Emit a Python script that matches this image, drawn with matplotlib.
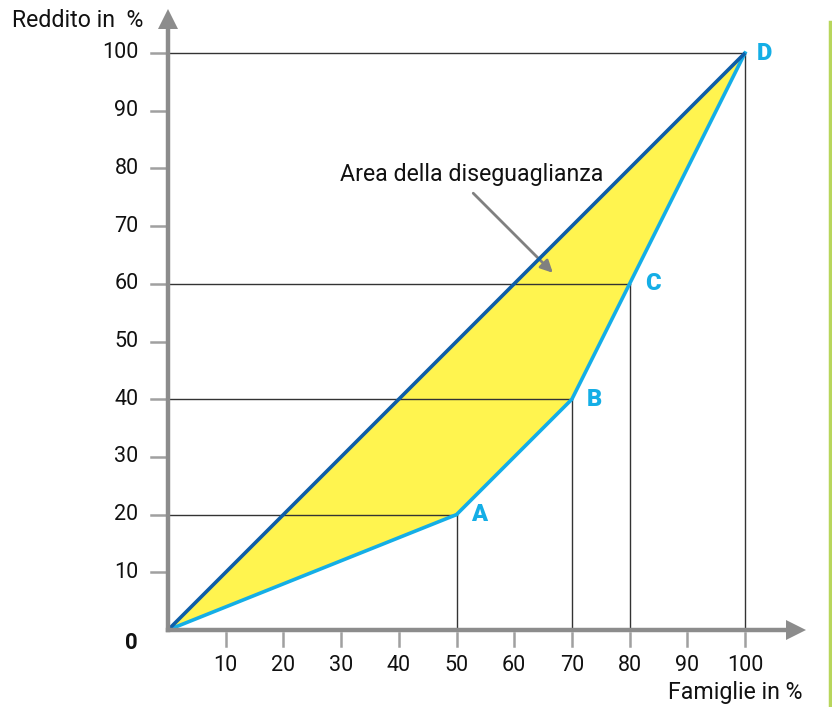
import numpy as np
import matplotlib
matplotlib.use("Agg")
import matplotlib.pyplot as plt
from matplotlib.lines import Line2D

plt.rcParams['font.family'] = ['Roboto', 'DejaVu Sans']

# dati della curva di Lorenz
famiglie = [0, 50, 70, 80, 100]
reddito = [0, 20, 40, 60, 100]
punti = ['A', 'B', 'C', 'D']
x_ticks = [10, 20, 30, 40, 50, 60, 70, 80, 90, 100]
y_ticks = [10, 20, 30, 40, 50, 60, 70, 80, 90, 100]

GRIGIO = '#8c8c8c'
CIANO = '#14aee6'
BLU = '#0d5ea8'
GIALLO = '#fff44f'

W, H = 832, 707
fig = plt.figure(figsize=(W / 100, H / 100), dpi=100)
# origine a (168, 630) px, 5.77 px per unita'
px = 5.77
x0, y0 = 168, 630
xmax = (805 - x0) / px
ymax = (y0 - 10) / px
ax = fig.add_axes([x0 / W, (H - y0) / H, (805 - x0) / W, (y0 - 10) / H])
ax.set_xlim(0, xmax)
ax.set_ylim(0, ymax)
ax.axis('off')

# area della diseguaglianza
ax.fill_between(famiglie, famiglie, reddito, color=GIALLO, lw=0, zorder=1)

# linee di riferimento
for xf, yr in zip(famiglie[1:], reddito[1:]):
    ax.plot([0, xf], [yr, yr], color='#333333', lw=1.0, zorder=2)
    ax.plot([xf, xf], [0, yr], color='#333333', lw=1.0, zorder=2)

ax.plot([0, 100], [0, 100], color=BLU, lw=2.6, zorder=4, solid_capstyle='butt')
ax.plot(famiglie, reddito, color=CIANO, lw=2.6, zorder=3, solid_joinstyle='miter')

# assi con frecce
ax.plot([0, xmax - 2.5], [0, 0], color=GRIGIO, lw=3.2, zorder=5, clip_on=False, solid_capstyle='projecting')
ax.plot([0, 0], [0, ymax - 2.5], color=GRIGIO, lw=3.2, zorder=5, clip_on=False, solid_capstyle='projecting')
ax.plot([xmax - 1.6], [0], marker='>', ms=14, color=GRIGIO, mew=0, clip_on=False, zorder=5)
ax.plot([0], [ymax - 1.6], marker='^', ms=14, color=GRIGIO, mew=0, clip_on=False, zorder=5)

for t in x_ticks:
    ax.plot([t, t], [-0.5, -2.7], color='#a0a0a0', lw=1.8, clip_on=False)
    ax.text(t, -6.1, str(t), ha='center', va='center', fontsize=15.5, color='#111111')
for t in y_ticks:
    ax.plot([-0.4, -3.0], [t, t], color='#a0a0a0', lw=1.8, clip_on=False)
    ax.text(-5.1, t, str(t), ha='right', va='center', fontsize=15.5, color='#111111')

ax.text(-6.3, -2.3, '0', ha='center', va='center', fontsize=16, fontweight='bold', color='#111111')
ax.text(-4.3, 105.7, 'Reddito in  %', ha='right', va='center', fontsize=16.7, color='#111111')
ax.text(110.0, -10.9, 'Famiglie in %', ha='right', va='center', fontsize=16.7, color='#111111')

# etichette dei punti
offs = [(3.9, 0), (3.9, 0), (4.0, 0), (3.3, 0)]
for lab, xf, yr, (dx, dy) in zip(punti, famiglie[1:], reddito[1:], offs):
    ax.text(xf + dx, yr + dy, lab, ha='center', va='center', fontsize=17,
            fontweight='heavy', color=CIANO)

ax.text(52.7, 79.0, 'Area della diseguaglianza', ha='center', va='center',
        fontsize=16.7, color='#111111')
ax.annotate('', xy=(66.7, 61.9), xytext=(52.9, 75.7),
            arrowprops=dict(arrowstyle='-|>', color='#808080', lw=2,
                            mutation_scale=18, shrinkA=0, shrinkB=0))

# bordo verde a destra
fig.add_artist(Line2D([829.5 / W, 829.5 / W], [0, 1 - 22 / H], color='#b8d65c', lw=2.5))

fig.savefig('out.png', dpi=100)
